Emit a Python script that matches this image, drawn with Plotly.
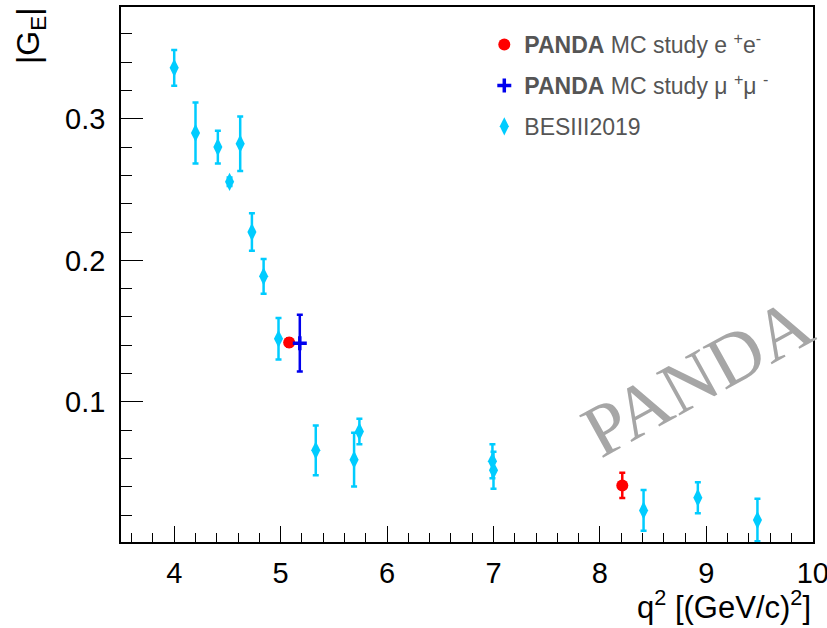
import plotly.graph_objects as go

# BESIII 2019 data
besiii_q2 = [4.00, 4.20, 4.41, 4.52, 4.62, 4.73, 4.84, 4.98, 5.33, 5.69, 5.74, 6.99, 7.00, 8.41, 8.92, 9.48]
besiii_ge = [0.336, 0.290, 0.280, 0.2555, 0.2824, 0.220, 0.1887, 0.1446, 0.0658, 0.0592, 0.079, 0.058, 0.0517, 0.0233, 0.0323, 0.0165]
besiii_err = [0.0127, 0.0215, 0.0115, 0.003, 0.0193, 0.0133, 0.0123, 0.0147, 0.0176, 0.019, 0.009, 0.012, 0.013, 0.0144, 0.011, 0.015]

# PANDA MC study e+e-
panda_ee_q2 = [5.08, 8.21]
panda_ee_ge = [0.142, 0.041]
panda_ee_err = [0.003, 0.009]

# PANDA MC study mu+mu-
panda_mm_q2 = [5.18]
panda_mm_ge = [0.1415]
panda_mm_err = [0.020]

x_ticks = [4, 5, 6, 7, 8, 9, 10]
y_ticks = [0.1, 0.2, 0.3]

FONT = "Liberation Sans, Arial, sans-serif"
CYAN = "#00ccff"

fig = go.Figure()

fig.add_trace(go.Scatter(
    x=besiii_q2, y=besiii_ge, mode="markers",
    name="BESIII2019", legendgroup="c", legendrank=3,
    marker=dict(symbol="diamond-tall", size=13, color=CYAN),
    error_y=dict(type="data", array=besiii_err, color=CYAN, thickness=2.5, width=3),
))
fig.add_trace(go.Scatter(
    x=panda_ee_q2, y=panda_ee_ge, mode="markers",
    name="<b>PANDA</b> MC study e <sup>+</sup>e<sup>-</sup>", legendgroup="a", legendrank=1,
    marker=dict(symbol="circle", size=12, color="#ff0000"),
    error_y=dict(type="data", array=panda_ee_err, color="#ff0000", thickness=2.5, width=3),
))
fig.add_trace(go.Scatter(
    x=panda_mm_q2, y=panda_mm_ge, mode="markers",
    name="<b>PANDA</b> MC study \u03bc <sup>+</sup>\u03bc <sup>-</sup>", legendgroup="b", legendrank=2,
    marker=dict(symbol="cross-thin", size=10, color="#0000ee", line=dict(width=3.5, color="#0000ee")),
    error_y=dict(type="data", array=panda_mm_err, color="#0000ee", thickness=2.5, width=3),
))

axis_common = dict(
    showgrid=False, zeroline=False, showline=True, linecolor="black", linewidth=1.5,
    mirror=True, ticks="inside", tickcolor="black", automargin=False,
    ticklabeloverflow="allow",
    tickfont=dict(family=FONT, size=29, color="black"),
)

fig.update_xaxes(
    range=[3.5, 10.002], tickvals=x_ticks, ticklen=16, tickwidth=1.2,
    minor=dict(dtick=0.2, ticklen=9, ticks="inside", tickcolor="black", tickwidth=1.2),
    ticklabelstandoff=4,
    **axis_common,
)
fig.update_yaxes(
    range=[0.001, 0.379], tickvals=y_ticks, ticklen=22, tickwidth=1.2,
    minor=dict(dtick=0.02, ticklen=11, ticks="inside", tickcolor="black", tickwidth=1.2),
    ticklabelstandoff=8,
    **axis_common,
)

fig.update_layout(
    width=827, height=628,
    margin=dict(l=121, r=14, t=7, b=86, autoexpand=False),
    paper_bgcolor="white", plot_bgcolor="white",
    showlegend=True,
    legend=dict(
        x=0.525, y=0.97, xanchor="left", yanchor="top",
        font=dict(family=FONT, size=23, color="#555555"),
        bgcolor="rgba(0,0,0,0)", tracegroupgap=8,
        itemwidth=30,
    ),
    annotations=[
        dict(text="|G<sub>E</sub>|", textangle=-90, xref="paper", yref="paper",
             x=(31 - 121) / 692, y=(542 - 6) / 535, xanchor="center", yanchor="top",
             showarrow=False, font=dict(family=FONT, size=32, color="black")),
        dict(text="q<sup>2</sup> [(GeV/c)<sup>2</sup>]", xref="paper", yref="paper",
             x=1.0, y=(542 - 627) / 535, xanchor="right", yanchor="bottom",
             showarrow=False, font=dict(family=FONT, size=31, color="black")),
        dict(text="PANDA", textangle=-29, xref="paper", yref="paper",
             x=(697 - 121) / 692, y=(542 - 377) / 535, xanchor="center", yanchor="middle",
             showarrow=False, font=dict(family="Liberation Serif, Times New Roman, serif", size=74, color="#a6a6a6")),
    ],
)

fig.write_html("out.html", config={"displayModeBar": False},
               post_script="document.body.style.margin='0';document.body.style.overflow='hidden';")
